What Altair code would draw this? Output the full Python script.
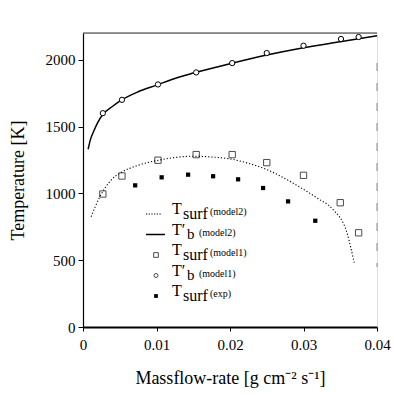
import altair as alt
import pandas as pd

FONT = "Liberation Serif"
W, H = 294, 294

# Tb' (model1) - open circles
x_tb1 = [0.0027, 0.0053, 0.0102, 0.0154, 0.0203, 0.0250, 0.0300, 0.0351, 0.0375]
y_tb1 = [1600, 1700, 1815, 1905, 1975, 2050, 2105, 2155, 2170]
# Tsurf (model1) - open squares
x_ts1 = [0.0027, 0.0053, 0.0102, 0.0154, 0.0203, 0.0250, 0.0300, 0.0350, 0.0375]
y_ts1 = [995, 1130, 1248, 1290, 1290, 1230, 1135, 930, 705]
# Tsurf (exp) - filled squares
x_exp = [0.0071, 0.0107, 0.0143, 0.0177, 0.0211, 0.0245, 0.0279, 0.0316]
y_exp = [1060, 1120, 1140, 1128, 1105, 1040, 940, 795]
# Tb' (model2) - solid line
x_tb2 = [0.0007, 0.0010, 0.0015, 0.0020, 0.0027, 0.0040, 0.0050, 0.0075, 0.0100,
         0.0125, 0.0150, 0.0200, 0.0250, 0.0300, 0.0350, 0.0400]
y_tb2 = [1330, 1400, 1470, 1530, 1590, 1650, 1690, 1760, 1810,
         1860, 1900, 1970, 2035, 2090, 2135, 2180]
# Tsurf (model2) - dotted line
x_ts2 = [0.0011, 0.0023, 0.0030, 0.0040, 0.0050, 0.0075, 0.0100, 0.0125, 0.0150,
         0.0175, 0.0200, 0.0225, 0.0250, 0.0275, 0.0300, 0.0320, 0.0340, 0.0359, 0.0369]
y_ts2 = [825, 975, 1040, 1110, 1150, 1210, 1245, 1268, 1278,
         1272, 1258, 1225, 1178, 1110, 1030, 960, 880, 707, 481]

# legend
leg_main = ["T", "T′", "T", "T′", "T"]
leg_sub = ["surf", "b", "surf", "b", "surf"]
leg_extra = ["(model2)", "(model2)", "(model1)", "(model1)", "(exp)"]
leg_kind = ["dot", "line", "sq", "circ", "fsq"]

xs = alt.Scale(domain=[0, 0.04], nice=False)
ys = alt.Scale(domain=[0, 2200], nice=False)

def pts(x, y):
    return pd.DataFrame({"x": x, "y": y})

X = alt.X("x:Q", scale=xs,
          axis=alt.Axis(values=[0, 0.01, 0.02, 0.03, 0.04], format=".2~f",
                        title="Massflow-rate [g cm⁻² s⁻¹]", grid=False,
                        labelFont=FONT, titleFont=FONT,
                        titlePadding=17, labelPadding=6,
                        domainWidth=2, tickSize=4, labelFlush=False))
Y = alt.Y("y:Q", scale=ys,
          axis=alt.Axis(values=[0, 500, 1000, 1500, 2000], format="d",
                        title="Temperature [K]", grid=False,
                        labelFont=FONT, titleFont=FONT,
                        titlePadding=18, labelPadding=3,
                        domainWidth=1.2, tickSize=5))

line_tb2 = alt.Chart(pts(x_tb2, y_tb2)).mark_line(
    color="black", strokeWidth=1.5, interpolate="monotone").encode(x=X, y=Y)
line_ts2 = alt.Chart(pts(x_ts2, y_ts2)).mark_line(
    color="black", strokeWidth=1.1, strokeDash=[1.2, 2], interpolate="monotone").encode(x="x:Q", y="y:Q")
p_tb1 = alt.Chart(pts(x_tb1, y_tb1)).mark_point(
    shape="circle", size=28, color="black", filled=False, strokeWidth=1, fill="white", fillOpacity=1).encode(x="x:Q", y="y:Q")
p_ts1 = alt.Chart(pts(x_ts1, y_ts1)).mark_point(
    shape="square", size=40, color="black", filled=False, strokeWidth=1).encode(x="x:Q", y="y:Q")
p_exp = alt.Chart(pts(x_exp, y_exp)).mark_point(
    shape="square", size=18, color="black", filled=True, opacity=1).encode(x="x:Q", y="y:Q")

# frame: top line and faint dashed right edge
top = alt.Chart(pts([0], [0])).mark_rule(color="#333333", strokeWidth=1).encode(
    x=alt.value(0), x2=alt.value(W), y=alt.value(0))
right = alt.Chart(pts([0], [0])).mark_rule(color="#888888", strokeWidth=1, strokeDash=[8, 12]).encode(
    x=alt.value(W), y=alt.value(30), y2=alt.value(H - 60))

leg = pd.DataFrame({"row": list(range(5)), "main": leg_main, "sub": leg_sub,
                    "extra": leg_extra, "kind": leg_kind})
legbase = alt.Chart(leg).transform_calculate(ly="datum.row * 20.5 + 181")
Ly = alt.Y("ly:Q", scale=alt.Scale(domain=[0, H], range=[0, H]), axis=None)

leg_T = legbase.mark_text(font=FONT, fontSize=16, align="left", baseline="alphabetic",
                          color="black").encode(x=alt.value(89), y=Ly, text="main:N")
leg_sub_s = legbase.transform_filter("datum.sub == 'surf'").mark_text(
    font=FONT, fontSize=16, align="left", baseline="alphabetic", dy=5, color="black").encode(
    x=alt.value(100), y=Ly, text="sub:N")
leg_sub_b = legbase.transform_filter("datum.sub == 'b'").mark_text(
    font=FONT, fontSize=15, align="left", baseline="alphabetic", dy=4, color="black").encode(
    x=alt.value(104), y=Ly, text="sub:N")
leg_ex_s = legbase.transform_filter("datum.sub == 'surf'").mark_text(
    font=FONT, fontSize=10, align="left", baseline="alphabetic", dy=1, color="black").encode(
    x=alt.value(127), y=Ly, text="extra:N")
leg_ex_b = legbase.transform_filter("datum.sub == 'b'").mark_text(
    font=FONT, fontSize=10, align="left", baseline="alphabetic", dy=1, color="black").encode(
    x=alt.value(116), y=Ly, text="extra:N")

leg_dot = legbase.transform_filter("datum.kind == 'dot'").mark_rule(
    color="black", strokeWidth=1, strokeDash=[1.2, 1.5]).encode(
    x=alt.value(63), x2=alt.value(78), y=Ly)
leg_line = legbase.transform_filter("datum.kind == 'line'").mark_rule(
    color="black", strokeWidth=1.5).encode(x=alt.value(63), x2=alt.value(82), y=Ly)
leg_sq = legbase.transform_filter("datum.kind == 'sq'").mark_point(
    shape="square", size=22, color="black", filled=False, strokeWidth=1).encode(
    x=alt.value(73), y=Ly)
leg_circ = legbase.transform_filter("datum.kind == 'circ'").mark_point(
    shape="circle", size=16, color="black", filled=False, strokeWidth=1).encode(
    x=alt.value(73), y=Ly)
leg_fsq = legbase.transform_filter("datum.kind == 'fsq'").mark_point(
    shape="square", size=14, color="black", filled=True, opacity=1).encode(
    x=alt.value(73), y=Ly)

main = alt.layer(line_tb2, line_ts2, p_ts1, p_tb1, p_exp, top, right)
legend = alt.layer(leg_dot, leg_line, leg_sq, leg_circ, leg_fsq,
                   leg_T, leg_sub_s, leg_sub_b, leg_ex_s, leg_ex_b)

chart = alt.layer(main, legend).resolve_scale(y="independent").properties(
    width=W, height=H,
    autosize=alt.AutoSizeParams(type="none"),
    padding={"left": 83, "top": 33, "right": 17, "bottom": 69},
).configure_view(stroke=None).configure(background="white").configure_axis(
    labelFont=FONT, labelFontSize=15, labelColor="black",
    titleFont=FONT, titleFontSize=18, titleFontWeight="normal", titleColor="black",
    domainColor="black", tickColor="black")

chart.save("out.html", embed_options={"renderer": "svg", "actions": False})
